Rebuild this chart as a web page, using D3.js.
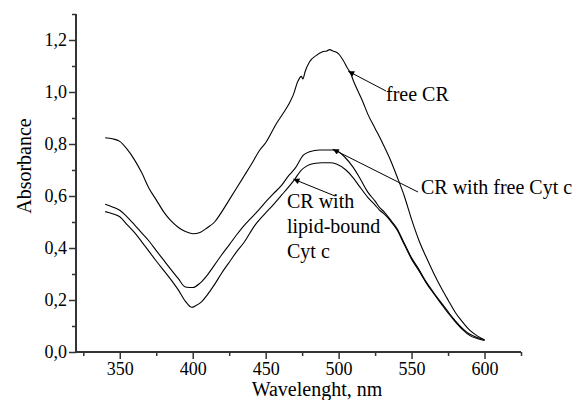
<!DOCTYPE html>
<html>
<head>
<meta charset="utf-8">
<script src="https://cdn.jsdelivr.net/npm/d3@7"></script>
</head>
<body style="margin:0">
<svg id="chart" width="578" height="400" style="display:block;background:#fff"></svg>
<script>
// ---- Data ----
const freeCRWl = [340,345,350,355,360,365,370,375,380,385,390,395,400,405,410,415,420,425,430,435,440,446,450,457.5,462,466,469,472,474.5,475.5,477,480,485,489,492,494,496,500,503,506,508,510,517,520,525,530,535,540,545,550,555,560,565,570,575,580,585,590,595,600];
const freeCRAbs = [0.824,0.82,0.81,0.78,0.74,0.69,0.63,0.585,0.54,0.505,0.48,0.463,0.455,0.46,0.478,0.50,0.54,0.585,0.63,0.675,0.72,0.777,0.805,0.88,0.918,0.955,0.99,1.04,1.06,1.05,1.078,1.115,1.142,1.155,1.158,1.163,1.158,1.147,1.123,1.092,1.075,1.045,0.957,0.915,0.86,0.805,0.745,0.675,0.60,0.51,0.43,0.365,0.305,0.25,0.20,0.152,0.115,0.083,0.062,0.046];

const freeCytWl = [340,345,350,355,360,365,370,375,380,385,390,395,400,405,410,415,420,425,430,435,440,445,450,455,461,466,470,476,480,487,496,500,504,510,514,520,525,528,531,535,540,545,550,555,560,565,570,575,580,585,590,595,600];
const freeCytAbs = [0.568,0.558,0.545,0.52,0.49,0.458,0.427,0.39,0.354,0.318,0.283,0.25,0.248,0.265,0.296,0.335,0.375,0.412,0.45,0.485,0.515,0.545,0.577,0.607,0.642,0.68,0.705,0.758,0.77,0.777,0.777,0.77,0.751,0.71,0.674,0.615,0.58,0.556,0.54,0.512,0.475,0.418,0.362,0.318,0.27,0.23,0.192,0.155,0.12,0.09,0.068,0.056,0.047];

const lipidWl = [340,345,350,355,360,367.6,375,383.5,390,395,399.4,402,406,410,415,420,424.5,430,435,442.7,450,455,461,465,470,474,478,483,489,494,498.5,505,510,514.4,520,525,528,531,535,540,545,550,555,560,565,570,575,580,585,590,595,600];
const lipidAbs = [0.54,0.532,0.52,0.49,0.46,0.405,0.35,0.29,0.24,0.195,0.172,0.178,0.193,0.22,0.26,0.305,0.341,0.385,0.42,0.488,0.535,0.565,0.604,0.63,0.665,0.697,0.715,0.725,0.728,0.728,0.723,0.70,0.67,0.636,0.595,0.565,0.546,0.532,0.508,0.47,0.413,0.357,0.313,0.266,0.226,0.188,0.15,0.116,0.086,0.063,0.052,0.044];

const xMajorTicks = [350,400,450,500,550,600];
const xMinorTicks = [325,375,425,475,525,575,625];
const yMajorTicks = [0,0.2,0.4,0.6,0.8,1.0,1.2];
const yMinorTicks = [0.1,0.3,0.5,0.7,0.9,1.1,1.3];
const yTickLabels = ["0,0","0,2","0,4","0,6","0,8","1,0","1,2"];

const xDomain = [320, 625];
const yDomain = [0, 1.3];

// ---- Layout ----
const FONT = '"Liberation Serif"';
const svg = d3.select("#chart");
const plotLeft = 76, plotRight = 521, plotTop = 14, plotBottom = 352;
const x = d3.scaleLinear().domain(xDomain).range([plotLeft, plotRight]);
const y = d3.scaleLinear().domain(yDomain).range([plotBottom, plotTop]);

const axisColor = "#333";

// X axis
const gx = svg.append("g").attr("transform", `translate(0,${plotBottom})`);
gx.call(d3.axisBottom(x).tickValues(xMinorTicks).tickSize(4).tickFormat(""));
gx.call(g => g.append("g").call(d3.axisBottom(x).tickValues(xMajorTicks).tickSize(7).tickPadding(3).tickFormat(d3.format("d"))));
gx.selectAll(".domain").attr("d", `M${plotLeft},0H${plotRight}`);

// Y axis
const gy = svg.append("g").attr("transform", `translate(${plotLeft},0)`);
gy.call(d3.axisLeft(y).tickValues(yMinorTicks).tickSize(4).tickFormat(""));
gy.call(g => g.append("g").call(d3.axisLeft(y).tickValues(yMajorTicks).tickSize(7).tickPadding(2)
   .tickFormat((d, i) => yTickLabels[i])));
gy.selectAll(".domain").attr("d", `M0,${plotTop}V${plotBottom}`);

svg.selectAll("g").attr("font-family", FONT);
svg.selectAll(".domain").attr("stroke", axisColor).attr("stroke-width", 1.8);
svg.selectAll(".tick line").attr("stroke", axisColor).attr("stroke-width", 1.5);
svg.selectAll(".tick text").attr("fill", "#000").attr("font-size", 18).attr("font-family", FONT);

// Axis titles
svg.append("text").attr("x", 317).attr("y", 395.5).attr("text-anchor", "middle")
   .attr("font-family", FONT).attr("font-size", 20).text("Wavelenght, nm");
svg.append("text").attr("transform", "translate(31,166) rotate(-90)").attr("text-anchor", "middle")
   .attr("font-family", FONT).attr("font-size", 20).text("Absorbance");

// Curves
const line = d3.line().x(d => x(d[0])).y(d => y(d[1])).curve(d3.curveMonotoneX);
const series = [
  d3.zip(freeCRWl, freeCRAbs),
  d3.zip(freeCytWl, freeCytAbs),
  d3.zip(lipidWl, lipidAbs)
];
svg.append("g").selectAll("path").data(series).join("path")
   .attr("d", line).attr("fill", "none").attr("stroke", "#000").attr("stroke-width", 1.1);

// Arrow marker
svg.append("defs").append("marker").attr("id", "arr")
   .attr("viewBox", "0 0 10 10").attr("refX", 10).attr("refY", 5)
   .attr("markerWidth", 9).attr("markerHeight", 6).attr("markerUnits", "userSpaceOnUse")
   .attr("orient", "auto")
   .append("path").attr("d", "M0,0L10,5L0,10Z").attr("fill", "#000");

// Annotations (arrow targets are data points on the curves)
const annotations = [
  { lines: ["free CR"], tx: 386, ty: 101, from: [386, 91], to: [506.6, 1.08] },
  { lines: ["CR with free Cyt c"], tx: 421, ty: 194, from: [418, 192], to: [496, 0.78] },
  { lines: ["CR with", "lipid-bound", "Cyt c"], tx: 287, ty: 208, from: [335, 196], to: [469, 0.665] }
];
annotations.forEach(a => {
  svg.append("line").attr("x1", a.from[0]).attr("y1", a.from[1])
     .attr("x2", x(a.to[0])).attr("y2", y(a.to[1]))
     .attr("stroke", "#000").attr("stroke-width", 1).attr("marker-end", "url(#arr)");
  const t = svg.append("text").attr("x", a.tx).attr("y", a.ty)
     .attr("font-family", FONT).attr("font-size", 20);
  a.lines.forEach((s, i) => t.append("tspan").attr("x", a.tx).attr("dy", i === 0 ? 0 : 25).text(s));
});
</script>
</body>
</html>
